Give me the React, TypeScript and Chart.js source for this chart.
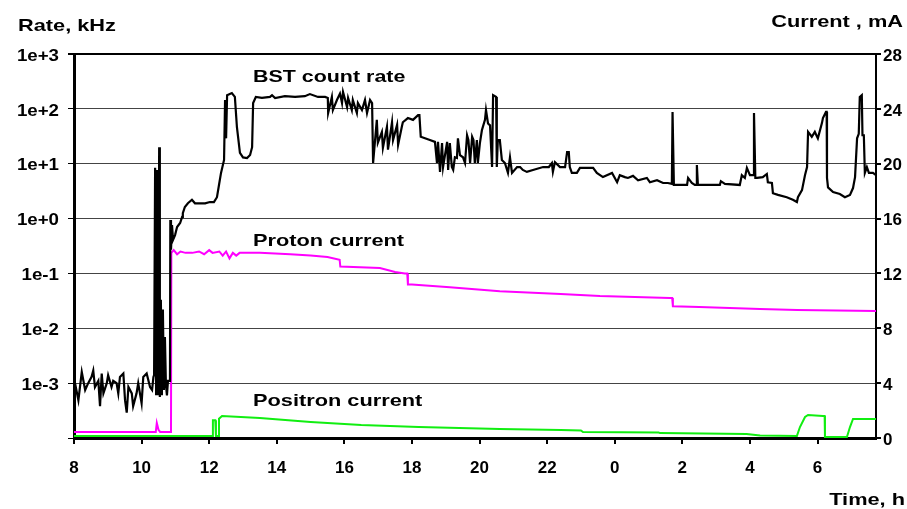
import React, { useEffect, useRef } from 'react';
import { Chart, registerables } from 'chart.js';

Chart.register(...registerables);

// Time axis runs from 08:00 through midnight to ~07:45 next day (hours past 24 wrap).
const timeMin = 8;
const timeMax = 31.73;
const timeTicks = [8, 10, 12, 14, 16, 18, 20, 22, 24, 26, 28, 30];

// Left axis: BST count rate, kHz (log scale)
const rateTicks = [1e-4, 1e-3, 1e-2, 1e-1, 1, 10, 100, 1000];
// Right axis: beam current, mA
const currentMin = 0;
const currentMax = 28;
const currentStep = 4;

const bstTime = [
  8.0, 8.03, 8.13, 8.23, 8.33, 8.42, 8.52, 8.57, 8.62, 8.72, 8.77, 8.82, 8.87, 8.97, 9.01, 9.11, 9.16,
  9.26, 9.31, 9.36, 9.46, 9.51, 9.56, 9.61, 9.71, 9.75, 9.85, 9.9, 10.0, 10.05, 10.15, 10.25, 10.31,
  10.35, 10.37, 10.4, 10.43, 10.46, 10.49, 10.52, 10.54, 10.57, 10.6, 10.63, 10.66, 10.69, 10.72,
  10.75, 10.78, 10.84, 10.85, 10.87, 10.9, 10.93, 10.99, 11.05, 11.14, 11.2, 11.22, 11.28, 11.37,
  11.49, 11.58, 11.73, 11.88, 12.02, 12.14, 12.23, 12.29, 12.35, 12.44, 12.47, 12.5, 12.53, 12.67,
  12.76, 12.82, 12.91, 13.0, 13.12, 13.21, 13.27, 13.3, 13.38, 13.56, 13.8, 13.86, 13.95, 14.24,
  14.54, 14.83, 14.98, 15.22, 15.43, 15.51, 15.52, 15.63, 15.66, 15.78, 15.87, 15.93, 15.96, 16.08,
  16.11, 16.22, 16.25, 16.37, 16.4, 16.52, 16.61, 16.67, 16.76, 16.82, 16.85, 16.96, 16.99, 17.11,
  17.14, 17.26, 17.29, 17.41, 17.44, 17.56, 17.59, 17.7, 17.73, 17.88, 18.03, 18.18, 18.22, 18.26,
  18.53, 18.68, 18.74, 18.77, 18.83, 18.89, 18.92, 19.04, 19.07, 19.12, 19.18, 19.22, 19.27, 19.33,
  19.36, 19.42, 19.51, 19.57, 19.63, 19.67, 19.72, 19.78, 19.82, 19.86, 19.92, 19.95, 20.01, 20.07,
  20.16, 20.19, 20.25, 20.31, 20.37, 20.4, 20.49, 20.51, 20.54, 20.6, 20.66, 20.75, 20.84, 20.9,
  20.96, 21.11, 21.2, 21.28, 21.4, 21.58, 21.88, 22.05, 22.14, 22.17, 22.23, 22.38, 22.53, 22.59,
  22.64, 22.67, 22.73, 22.88, 22.97, 23.36, 23.47, 23.65, 23.92, 24.07, 24.15, 24.3, 24.39, 24.54,
  24.69, 24.95, 25.04, 25.25, 25.43, 25.57, 25.69, 25.71, 25.75, 26.14, 26.17, 26.28, 26.37, 26.42,
  26.43, 26.46, 27.11, 27.14, 27.26, 27.7, 27.76, 27.85, 27.91, 28.0, 28.1, 28.12, 28.16, 28.21,
  28.38, 28.5, 28.53, 28.65, 28.68, 28.83, 29.09, 29.27, 29.39, 29.42, 29.54, 29.63, 29.69, 29.72,
  29.83, 29.92, 30.01, 30.13, 30.16, 30.25, 30.27, 30.28, 30.31, 30.46, 30.66, 30.81, 30.96, 31.05,
  31.11, 31.17, 31.22, 31.25, 31.31, 31.33, 31.37, 31.4, 31.46, 31.52, 31.64, 31.73,
];

const bstRate = [
  1.0e-3, 1.0e-3, 4.9e-4, 1.6e-3, 7.5e-4, 1.0e-3, 1.3e-3, 1.7e-3, 8.5e-4, 1.1e-3, 3.8e-4, 1.5e-3,
  6.5e-4, 1.0e-3, 1.4e-3, 8.5e-4, 1.1e-3, 1.0e-3, 6.5e-4, 1.3e-3, 1.5e-3, 4.9e-4, 2.9e-4, 8.5e-4,
  6.5e-4, 3.8e-4, 6.5e-4, 1.0e-3, 4.3e-4, 1.3e-3, 1.5e-3, 8.5e-4, 7.5e-4, 1.3e-3, 1.4e-3, 8.4,
  6.0e-4, 7.7, 6.0e-4, 20, 5.6e-4, 0.033, 6.0e-4, 0.022, 7.5e-4, 0.0069, 9.3e-4, 6.0e-4, 1.1e-3,
  1.1e-3, 0.94, 0.27, 0.76, 0.41, 0.5, 0.7, 0.83, 1.07, 1.26, 1.63, 1.9, 2.2, 1.9, 1.9, 1.9, 2.0,
  2.0, 2.45, 4.1, 6.8, 11.7, 145, 29, 178, 194, 165, 47, 15.7, 13, 12.7, 14.4, 20, 128, 165, 158,
  165, 178, 158, 170, 165, 170, 186, 165, 165, 158, 84, 165, 95, 145, 190, 128, 203, 108, 158, 95,
  145, 84, 128, 95, 145, 84, 145, 128, 10.3, 63, 24, 38, 19.5, 47, 18, 57, 27, 51, 22, 47, 57, 68,
  63, 77, 77, 31, 27, 25, 10.3, 25, 7.1, 23.8, 8.7, 25, 7.7, 23.8, 8.7, 7.7, 13.1, 12.7, 29, 14.4,
  13.1, 10.3, 33, 27, 10.3, 31, 27, 10.3, 27, 10.3, 23.8, 41, 63, 95, 54, 50, 8.7, 178, 165, 8.7,
  27, 27, 11.7, 10.3, 6.8, 13.1, 6.8, 8.7, 8.7, 7.7, 7.1, 7.7, 8.7, 8.7, 10.3, 7.1, 10.7, 8.7, 8.7,
  16.3, 16.3, 8.7, 6.8, 6.8, 8.4, 8.4, 6.8, 5.7, 6.8, 4.6, 6.2, 5.7, 5.5, 6.0, 5.0, 5.5, 4.6, 5.0,
  4.45, 4.45, 4.3, 88, 4.1, 4.1, 5.5, 4.45, 4.1, 4.1, 9.5, 4.1, 4.1, 4.8, 4.3, 4.1, 6.2, 5.5, 8.4,
  6.2, 6.2, 84, 5.5, 5.5, 5.7, 6.5, 4.6, 4.45, 2.9, 2.7, 2.45, 2.2, 2.0, 2.45, 3.3, 6.2, 8.7, 38,
  31, 38, 29, 55, 68, 88, 88, 5.5, 3.7, 3.05, 2.8, 2.45, 2.7, 3.6, 5.7, 29, 35, 165, 178, 33, 33,
  6.8, 8.7, 6.8, 6.8, 6.2,
];

const protonTime = [
  8.0, 10.42, 10.45, 10.5, 10.55, 10.87, 10.88, 10.95, 11.05, 11.15, 11.3, 11.5, 11.7, 11.85, 12.0,
  12.1, 12.3, 12.4, 12.5, 12.6, 12.7, 12.8, 12.9, 13.5, 14.4, 15.0, 15.5, 15.86, 15.88, 17.05, 17.5,
  17.79, 17.86, 17.88, 18.0, 19.12, 20.6, 22.4, 23.56, 25.63, 25.7, 25.72, 26.5, 28.3, 29.4, 31.73,
];
const protonCurrent = [
  0.44, 0.44, 1.1, 0.6, 0.44, 0.44, 13.5, 13.7, 13.4, 13.6, 13.5, 13.5, 13.6, 13.4, 13.7, 13.5,
  13.6, 13.3, 13.6, 13.1, 13.5, 13.3, 13.5, 13.5, 13.4, 13.3, 13.2, 13.0, 12.5, 12.4, 12.1, 12.0,
  12.0, 11.2, 11.2, 11.0, 10.7, 10.5, 10.35, 10.2, 10.2, 9.6, 9.55, 9.4, 9.33, 9.26,
];

const positronTime = [
  8.0, 12.1, 12.11, 12.18, 12.2, 12.27, 12.29, 12.38, 13.5, 15.0, 16.5, 18.2, 20.6, 22.4, 23.0,
  23.06, 25.3, 25.34, 27.9, 28.3, 29.39, 29.48, 29.63, 29.72, 30.16, 30.21, 30.22, 30.87, 30.96,
  31.05, 31.73,
];
const positronCurrent = [
  0.15, 0.15, 1.3, 1.3, 0.15, 0.15, 1.4, 1.6, 1.46, 1.17, 0.95, 0.8, 0.66, 0.58, 0.55, 0.44, 0.4,
  0.36, 0.3, 0.18, 0.15, 0.8, 1.53, 1.68, 1.6, 1.6, 0.07, 0.07, 0.8, 1.39, 1.39,
];

const pairs = (xs: number[], ys: number[]) => xs.map((x, i) => ({ x, y: ys[i] }));

const FONT = 'bold 17px "Liberation Sans", Arial, sans-serif';

function stretchedText(
  ctx: CanvasRenderingContext2D,
  text: string,
  x: number,
  y: number,
  align: CanvasTextAlign,
  sx: number,
) {
  ctx.save();
  ctx.translate(x, y);
  ctx.scale(sx, 1);
  ctx.textAlign = align;
  ctx.fillText(text, 0, 0);
  ctx.restore();
}

const labelsPlugin = {
  id: 'chartLabels',
  afterDraw(chart: any) {
    const { ctx, scales } = chart;
    const rate = scales.rate;
    const cur = scales.current;
    const x = scales.x;
    ctx.save();
    ctx.fillStyle = '#000';
    ctx.font = FONT;
    ctx.textBaseline = 'alphabetic';

    // axis titles
    stretchedText(ctx, 'Rate, kHz', 18, 31, 'left', 1.28);
    stretchedText(ctx, 'Current , mA', 903, 27, 'right', 1.28);
    stretchedText(ctx, 'Time, h', 905, 505, 'right', 1.28);

    // series captions
    stretchedText(ctx, 'BST count rate', 253, 82, 'left', 1.26);
    stretchedText(ctx, 'Proton current', 253, 246, 'left', 1.28);
    stretchedText(ctx, 'Positron current', 253, 406, 'left', 1.28);

    // left tick labels
    ctx.textBaseline = 'middle';
    rate.ticks.forEach((t: any) => {
      if (t.value <= rateTicks[0]) return;
      const e = Math.round(Math.log10(t.value));
      const s = `1e${e >= 0 ? '+' : '-'}${Math.abs(e)}`;
      stretchedText(ctx, s, 59, rate.getPixelForValue(t.value) + 2, 'right', 1.1);
    });
    // right tick labels
    cur.ticks.forEach((t: any) => {
      stretchedText(ctx, String(t.value), 883, cur.getPixelForValue(t.value) + 2, 'left', 1.0);
    });
    // time tick labels (hours wrap at midnight)
    ctx.textBaseline = 'alphabetic';
    x.ticks.forEach((t: any) => {
      const h = ((t.value % 24) + 24) % 24;
      stretchedText(ctx, String(h), x.getPixelForValue(t.value), 473, 'center', 1.0);
    });
    ctx.restore();
  },
};

export default function App() {
  const canvasRef = useRef<HTMLCanvasElement | null>(null);

  useEffect(() => {
    const canvas = canvasRef.current;
    if (!canvas) return;
    const chart = new Chart(canvas, {
      type: 'line',
      data: {
        datasets: [
          {
            label: 'BST count rate',
            data: pairs(bstTime, bstRate),
            yAxisID: 'rate',
            borderColor: '#000000',
            borderWidth: 2.2,
            pointRadius: 0,
            tension: 0,
          },
          {
            label: 'Proton current',
            data: pairs(protonTime, protonCurrent),
            yAxisID: 'current',
            borderColor: '#ff00ff',
            borderWidth: 2,
            pointRadius: 0,
            tension: 0,
          },
          {
            label: 'Positron current',
            data: pairs(positronTime, positronCurrent),
            yAxisID: 'current',
            borderColor: '#11ee11',
            borderWidth: 2,
            pointRadius: 0,
            tension: 0,
          },
        ],
      },
      options: {
        responsive: false,
        animation: false,
        devicePixelRatio: 1,
        layout: { padding: { top: 54, left: 0, right: 0, bottom: 0 } },
        plugins: {
          legend: { display: false },
          tooltip: { enabled: false },
          title: { display: false },
        },
        scales: {
          x: {
            type: 'linear',
            min: timeMin,
            max: timeMax,
            ticks: { display: false },
            afterBuildTicks: (s: any) => {
              s.ticks = timeTicks.map((v) => ({ value: v }));
            },
            grid: {
              drawOnChartArea: false,
              drawTicks: true,
              tickLength: 6,
              tickColor: '#000',
              lineWidth: 2,
            },
            border: { display: true, color: '#000', width: 3 },
            afterFit: (s: any) => {
              s.height = 71;
            },
          },
          rate: {
            type: 'logarithmic',
            position: 'left',
            min: rateTicks[0],
            max: rateTicks[rateTicks.length - 1],
            ticks: { display: false },
            afterBuildTicks: (s: any) => {
              s.ticks = rateTicks.map((v) => ({ value: v }));
            },
            grid: {
              drawOnChartArea: true,
              drawTicks: true,
              tickLength: 6,
              color: (c: any) => (c.tick && c.tick.value >= 1000 ? '#000' : '#444'),
              lineWidth: (c: any) => (c.tick && c.tick.value >= 1000 ? 2 : 1),
              tickColor: '#000',
            },
            border: { display: true, color: '#000', width: 3 },
            afterFit: (s: any) => {
              s.width = 74;
            },
          },
          current: {
            type: 'linear',
            position: 'right',
            min: currentMin,
            max: currentMax,
            ticks: { display: false, stepSize: currentStep },
            grid: {
              drawOnChartArea: false,
              drawTicks: true,
              tickLength: 5,
              tickColor: '#000',
              lineWidth: 2,
            },
            border: { display: true, color: '#000', width: 2 },
            afterFit: (s: any) => {
              s.width = 31;
            },
          },
        },
      },
      plugins: [labelsPlugin],
    });
    return () => chart.destroy();
  }, []);

  return (
    <div style={{ position: 'absolute', left: 0, top: 0, width: 907, height: 509, background: '#fff' }}>
      <canvas ref={canvasRef} width={907} height={509} style={{ width: 907, height: 509, display: 'block' }} />
    </div>
  );
}
